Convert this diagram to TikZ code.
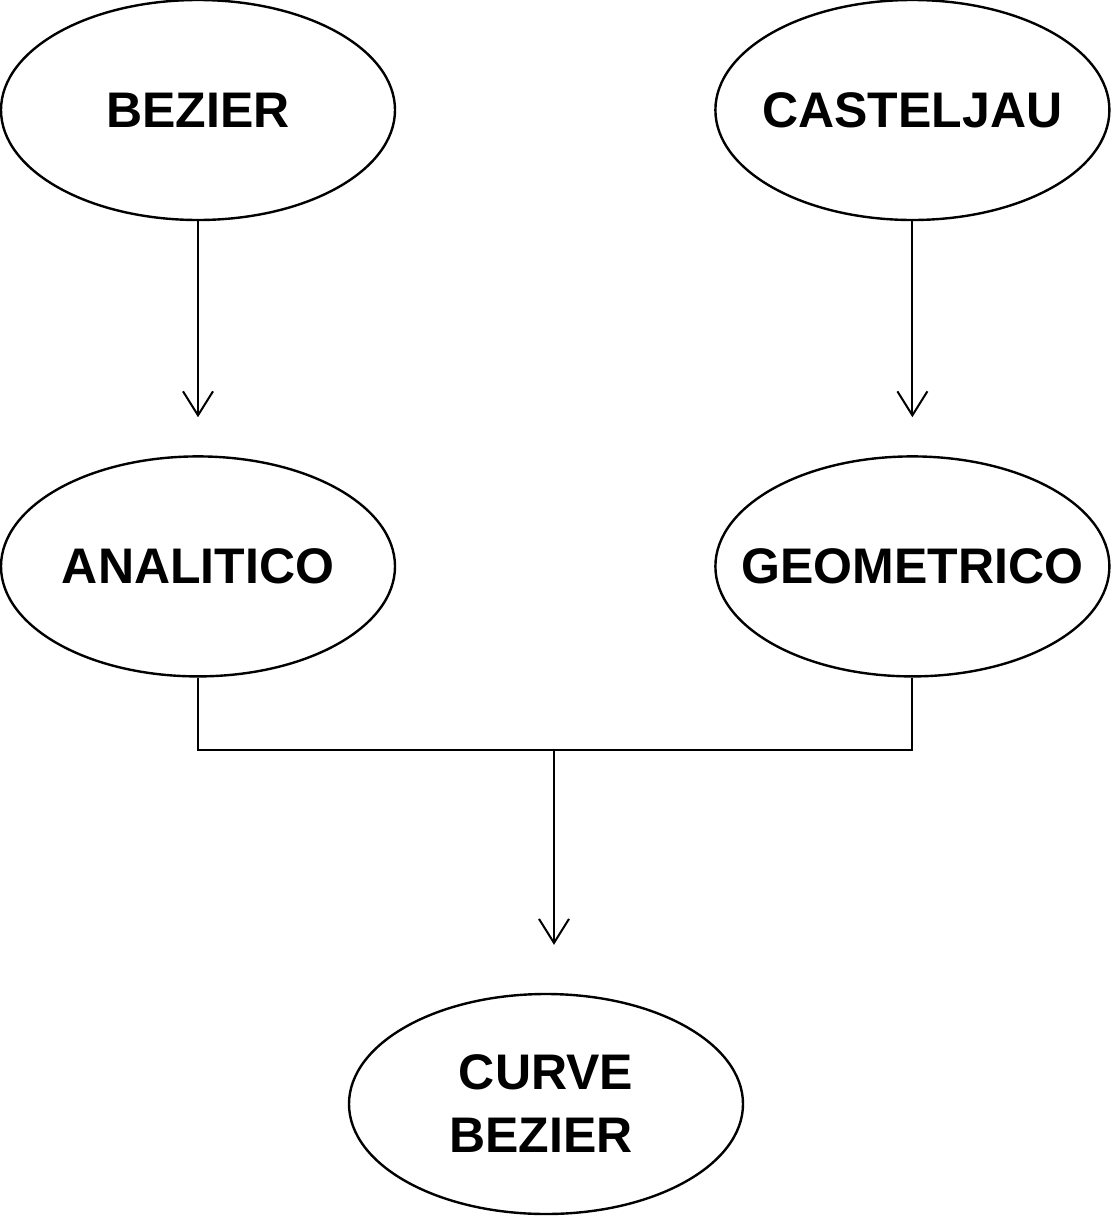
\documentclass[tikz,border=0pt]{standalone}
\usepackage{fontspec}
\setmainfont{Liberation Sans}
\usetikzlibrary{shapes.geometric}
\usetikzlibrary{positioning}
\usetikzlibrary{arrows.meta}
\begin{document}
\begin{tikzpicture}
			[
				myblock/.style = {draw, ellipse, line width = 1.2pt, minimum width = 197pt, minimum height = 110pt, inner sep = 0pt, align = center, font = \bfseries\fontsize{25}{31.5}\selectfont},
				myarrow/.style = {line width = 1pt, -{Straight Barb[length = 12pt, width = 15pt, line width = 1pt]}},
				myline/.style = {line width = 1pt}
			]
			\useasboundingbox (0pt,0pt) rectangle (555pt,-608pt);
			%
			\node (bezier) [myblock] at (99pt,-55pt) {\makebox[0pt]{BEZIER}};
			\node (casteljau) [myblock, right = 159pt of bezier] {\makebox[0pt]{CASTELJAU}};
			%
			\node (analitico) [myblock, below = 117pt of bezier] {\makebox[0pt]{ANALITICO}};
			\node (geometrico) [myblock, below = 117pt of casteljau] {\makebox[0pt]{GEOMETRICO}};
			%
			\draw [myarrow, shorten >= 19pt] (bezier) -- (analitico);
			\draw [myarrow, shorten >= 19pt] (casteljau) -- (geometrico);
			%
			\node (curve) [myblock] at (273pt,-552pt) {\makebox[0pt]{CURVE}\\\makebox[0pt]{BEZIER\hspace{5pt}}};
			%
			\coordinate (junction) at (277pt,-375pt);
			\draw [myline] (analitico.south) |- (junction) -| (geometrico.south);
			\draw [myarrow, shorten >= 24pt] (junction) -- (junction |- curve.north);
			%
		\end{tikzpicture}
\end{document}
